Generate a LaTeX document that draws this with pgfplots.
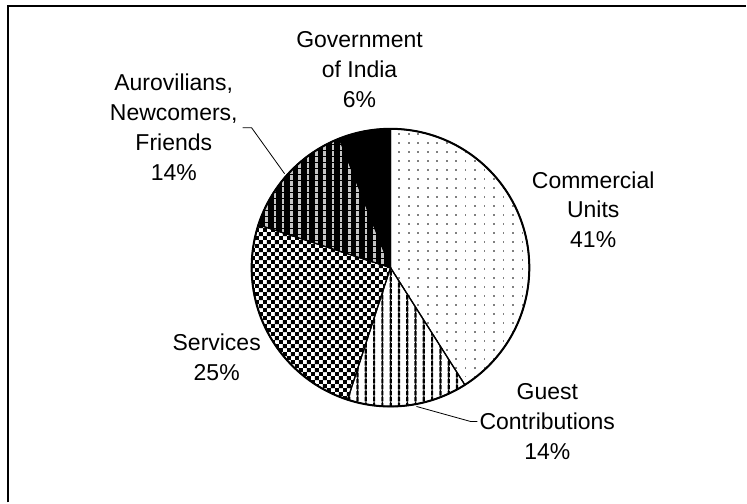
\documentclass[border=0pt]{standalone}
\usepackage{fontspec}
\setmainfont{Liberation Sans}
\usepackage{pgfplots}
\pgfplotsset{compat=1.18}
\usetikzlibrary{patterns}

% Excel-like fill patterns
\pgfdeclarepatternformonly{xlDots}{\pgfqpoint{-1bp}{-1bp}}{\pgfqpoint{10bp}{10bp}}{\pgfqpoint{9.5bp}{9bp}}{%
  \pgfpathrectangle{\pgfqpoint{0bp}{0bp}}{\pgfqpoint{1.6bp}{1.6bp}}\pgfusepath{fill}}
\pgfdeclarepatternformonly{xlVert}{\pgfqpoint{-1bp}{-1bp}}{\pgfqpoint{9bp}{7bp}}{\pgfqpoint{8.3bp}{6bp}}{%
  \pgfpathrectangle{\pgfqpoint{0bp}{0bp}}{\pgfqpoint{2.2bp}{4.5bp}}
  \pgfpathrectangle{\pgfqpoint{0.6bp}{4.5bp}}{\pgfqpoint{1bp}{1.5bp}}\pgfusepath{fill}}
\pgfdeclarepatternformonly{xlChecker}{\pgfqpoint{0bp}{0bp}}{\pgfqpoint{8bp}{8bp}}{\pgfqpoint{8bp}{8bp}}{%
  \pgfpathrectangle{\pgfqpoint{0bp}{0bp}}{\pgfqpoint{4bp}{4bp}}
  \pgfpathrectangle{\pgfqpoint{4bp}{4bp}}{\pgfqpoint{4bp}{4bp}}\pgfusepath{fill}}
\pgfdeclarepatternformonly{xlVertLight}{\pgfqpoint{-1bp}{-1bp}}{\pgfqpoint{9bp}{7bp}}{\pgfqpoint{8.3bp}{6bp}}{%
  \pgfpathrectangle{\pgfqpoint{0bp}{0bp}}{\pgfqpoint{2.6bp}{4.5bp}}\pgfusepath{fill}}

% slice from cumulative percent #1 to #2, clockwise from 12 o'clock
\newcommand\slice[3]{%
  \filldraw[#3, draw=black, line width=1.2bp] (axis cs:391,235) -- ++({90-3.6*#1}:139bp)
    arc[start angle={90-3.6*#1}, end angle={90-3.6*#2}, radius=139bp] -- cycle;}

\begin{document}
\begin{tikzpicture}
\begin{axis}[
    width=747bp, height=503bp, scale only axis,
    hide axis, clip=false, enlargelimits=false,
    xmin=0, xmax=747, ymin=0, ymax=503,
]
\path (axis cs:0,0) rectangle (axis cs:747,503);
% frame (left and top edges only)
\draw[line width=2bp] (axis cs:8,0) -- (axis cs:8,497) -- (axis cs:747,497);

% shares: Commercial 41, Guest 14, Services 25, Aurovilians 14, Government 6
\slice{0}{41}{pattern=xlDots, pattern color=gray}
\slice{41}{55}{pattern=xlVert, pattern color=black}
\slice{55}{80}{pattern=xlChecker, pattern color=black}
\slice{80}{94}{fill=black}
\slice{80}{94}{pattern=xlVertLight, pattern color=gray!45}
\slice{94}{100}{fill=black}
\draw[line width=2bp] (axis cs:391,235) circle[radius=139bp];

% leader lines
\draw[line width=0.8bp] (axis cs:243,375) -- (axis cs:252,375) -- (axis cs:285,329);
\draw[line width=0.8bp] (axis cs:417,96) -- (axis cs:471,81) -- (axis cs:478,81);

\tikzset{lbl/.style={align=center, inner sep=0pt, font=\fontsize{23bp}{30bp}\selectfont}}
\node[lbl] at (axis cs:360,433) {Government\\of India\\6\%};
\node[lbl] at (axis cs:594,293) {Commercial\\Units\\41\%};
\node[lbl] at (axis cs:548,81) {Guest\\Contributions\\14\%};
\node[lbl] at (axis cs:217,145) {Services\\25\%};
\node[lbl] at (axis cs:174,375.5) {Aurovilians,\\Newcomers,\\Friends\\14\%};
\end{axis}
\end{tikzpicture}
\end{document}
